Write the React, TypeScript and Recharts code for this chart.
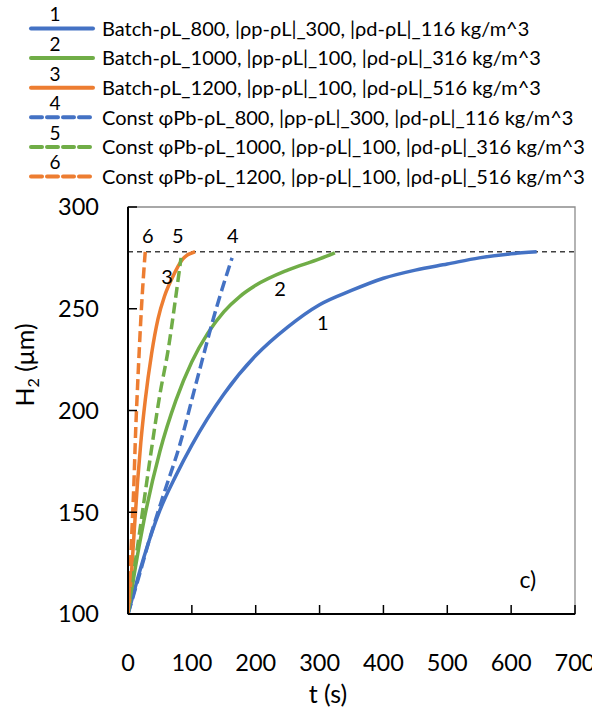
import { LineChart, Line, XAxis, YAxis, ReferenceLine, ReferenceArea, ReferenceDot } from 'recharts'

const FONT = 'Lato, "Noto Sans", sans-serif'

const BLUE = '#4472c4'
const GREEN = '#70ad47'
const ORANGE = '#ed7d31'

// Batch runs (solid)
const batch800T = [0, 25, 50, 75, 100, 150, 200, 250, 300, 350, 400, 450, 500, 550, 600, 640]
const batch800H = [100, 128, 151, 168, 183, 208, 227, 241, 252, 259, 265, 269, 272, 275, 277, 278]
const batch1000T = [0, 10, 25, 50, 75, 100, 125, 150, 175, 200, 250, 300, 324]
const batch1000H = [100, 120, 146, 180, 205, 224, 238, 248.5, 256, 261.5, 269, 274.5, 277.5]
const batch1200T = [0, 5, 10, 15, 20, 27, 37, 47, 57, 69, 86, 105]
const batch1200H = [100, 118, 142, 165, 184, 205, 228, 245, 256, 265, 274.5, 278]

// Constant phi runs (dashed)
const const800T = [0, 14, 34, 55, 81, 108, 139, 163]
const const800H = [100, 115, 137, 158, 183, 215, 251, 275]
const const1000T = [0, 8, 19, 34, 50, 63, 74, 83]
const const1000H = [100, 118, 142, 175, 208, 230, 254, 275]
const const1200T = [0, 3, 6, 9, 12, 15, 18, 21, 24, 27]
const const1200H = [100, 118, 140, 162, 190, 212, 232, 250, 265, 278]

const xTicks = [0, 100, 200, 300, 400, 500, 600, 700]
const yTicks = [100, 150, 200, 250, 300]
const maxHeight = 278

const legendNames = [
  'Batch-ρL_800, |ρp-ρL|_300, |ρd-ρL|_116 kg/m^3',
  'Batch-ρL_1000, |ρp-ρL|_100, |ρd-ρL|_316 kg/m^3',
  'Batch-ρL_1200, |ρp-ρL|_100, |ρd-ρL|_516 kg/m^3',
  'Const φPb-ρL_800, |ρp-ρL|_300, |ρd-ρL|_116 kg/m^3',
  'Const φPb-ρL_1000, |ρp-ρL|_100, |ρd-ρL|_316 kg/m^3',
  'Const φPb-ρL_1200, |ρp-ρL|_100, |ρd-ρL|_516 kg/m^3',
]

// curve number labels, placed in data coordinates
const curveLabels = [
  { n: '1', t: 305, h: 243 },
  { n: '2', t: 238, h: 259.7 },
  { n: '3', t: 61, h: 265.6 },
  { n: '4', t: 164, h: 285.6 },
  { n: '5', t: 78, h: 285.6 },
  { n: '6', t: 31, h: 285.6 },
]

const zip = (t: number[], h: number[]) => t.map((v, i) => ({ t: v, h: h[i] }))

const series = [
  { data: zip(batch800T, batch800H), color: BLUE, dash: undefined },
  { data: zip(batch1000T, batch1000H), color: GREEN, dash: undefined },
  { data: zip(batch1200T, batch1200H), color: ORANGE, dash: undefined },
  { data: zip(const800T, const800H), color: BLUE, dash: '11 5' },
  { data: zip(const1000T, const1000H), color: GREEN, dash: '11 5' },
  { data: zip(const1200T, const1200H), color: ORANGE, dash: '11 5' },
]

const YTick = ({ x, y, payload }: any) => (
  <g>
    <line x1={x} x2={x + 9} y1={y} y2={y} stroke="#000" strokeWidth={1.5} />
    <text x={x - 29} y={y} dy="0.36em" textAnchor="end" fontSize={23.5} fontFamily={FONT} fill="#000">
      {payload.value}
    </text>
  </g>
)

const XTick = ({ x, y, payload }: any) => (
  <g>
    <line x1={x} x2={x} y1={y} y2={y - 9} stroke="#000" strokeWidth={1.5} />
    <text x={x} y={y + 49} dy="0.36em" textAnchor="middle" fontSize={23.5} fontFamily={FONT} fill="#000">
      {payload.value}
    </text>
  </g>
)

function Legend() {
  return (
    <svg width={592} height={200} style={{ position: 'absolute', left: 0, top: 0 }}>
      {legendNames.map((name, i) => {
        const y = 28.5 + i * 29.6
        const s = series[i]
        return (
          <g key={name}>
            <text x={55} y={y - 14} dy="0.36em" textAnchor="middle" fontSize={19} fontFamily={FONT} fill="#000">
              {i + 1}
            </text>
            <line x1={31} x2={93} y1={y} y2={y} stroke={s.color} strokeWidth={4} strokeDasharray={s.dash} strokeLinecap="round" />
            <text x={102} y={y} dy="0.36em" fontSize={20} fontFamily={FONT} fill="#000">
              {name}
            </text>
          </g>
        )
      })}
    </svg>
  )
}

export default function App() {
  return (
    <div style={{ position: 'absolute', left: 0, top: 0, width: 592, height: 719, background: '#fff' }}>
      <LineChart width={592} height={719} margin={{ top: 207, right: 17, bottom: 45, left: 58 }}>
        <ReferenceArea x1={0} x2={700} y1={100} y2={300} fill="none" stroke="#8c8c8c" strokeWidth={1.3} />
        <XAxis
          type="number"
          dataKey="t"
          domain={[0, 700]}
          ticks={xTicks}
          allowDataOverflow
          height={60}
          tickSize={0}
          tickMargin={0}
          tick={<XTick />}
          axisLine={{ stroke: '#000', strokeWidth: 2 }}
          label={{
            content: () => (
              <text x={328} y={694} dy="0.36em" textAnchor="middle" fontSize={25} fontFamily={FONT} fill="#000">
                t (s)
              </text>
            ),
          }}
        />
        <YAxis
          type="number"
          domain={[100, 300]}
          ticks={yTicks}
          allowDataOverflow
          width={70}
          tickSize={0}
          tickMargin={0}
          tick={<YTick />}
          axisLine={{ stroke: '#000', strokeWidth: 2 }}
          label={{
            content: () => (
              <text
                x={25}
                y={365}
                dy="0.36em"
                textAnchor="middle"
                fontSize={25}
                fontFamily={FONT}
                fill="#000"
                transform="rotate(-90 25 365)"
              >
                H<tspan fontSize={16} dy={5}>2</tspan>
                <tspan dy={-5}> (μm)</tspan>
              </text>
            ),
          }}
        />
        <ReferenceLine y={maxHeight} stroke="#404040" strokeWidth={1.3} strokeDasharray="5 4" />
        {series.map((s, i) => (
          <Line
            key={i}
            data={s.data}
            dataKey="h"
            type="monotone"
            stroke={s.color}
            strokeWidth={3.5}
            strokeDasharray={s.dash}
            dot={false}
            activeDot={false}
            isAnimationActive={false}
          />
        ))}
        {curveLabels.map((c) => (
          <ReferenceDot
            key={c.n}
            x={c.t}
            y={c.h}
            r={0}
            fill="none"
            stroke="none"
            label={{ value: c.n, position: 'center', fontSize: 20, fontFamily: FONT, fill: '#000' }}
          />
        ))}
        <ReferenceDot
          x={626}
          y={116.7}
          r={0}
          fill="none"
          stroke="none"
          label={{ value: 'c)', position: 'center', fontSize: 23, fontFamily: FONT, fill: '#000' }}
        />
      </LineChart>
      <Legend />
    </div>
  )
}
